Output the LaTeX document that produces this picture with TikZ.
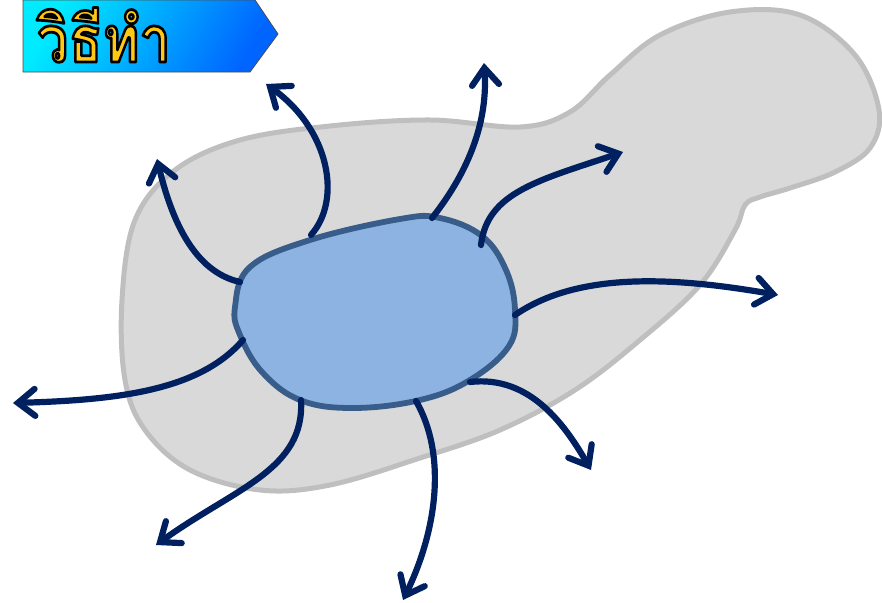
\documentclass[tikz,border=0pt]{standalone}
\usepackage{fontspec}
\newfontfamily\thaifont[Script=Thai]{Loma}
\usetikzlibrary{arrows.meta}
\definecolor{navy}{RGB}{0,32,96}
\definecolor{blobgray}{RGB}{217,217,217}
\definecolor{blobedge}{RGB}{191,191,191}
\definecolor{cellfill}{RGB}{141,179,226}
\definecolor{celledge}{RGB}{56,93,138}
\definecolor{bancyan}{RGB}{0,235,255}
\definecolor{banblue}{RGB}{0,100,255}
\definecolor{tgold}{RGB}{255,200,20}
\newcommand\ttltext{\scalebox{1.0}[1.15]{\thaifont\bfseries\fontsize{56}{60}\selectfont\special{pdf:literal direct 2 Tr 2.4 w 0 0 0 RG 1 j}วิธีทำ\special{pdf:literal direct 0 Tr}}}
\begin{document}
\begin{tikzpicture}[x=1pt,y=-1pt,
  arr/.style={draw=navy, line width=6.2pt, line cap=round,
    -{Straight Barb[length=17pt,width=27pt,line cap=round,line join=miter]}},
  ttl/.style={anchor=base west, inner sep=0pt, outer sep=0pt}]
\useasboundingbox (0,0) rectangle (882,602);
% gray region
\draw[fill=blobgray, draw=blobedge, line width=5pt]
  plot[smooth cycle, tension=0.6] coordinates {
  (122,300) (135,220) (175,170) (240,140) (330,126) (430,120) (520,127)
  (570,112) (610,75) (660,35) (730,12) (800,15) (855,55) (879,110)
  (870,148) (835,172) (790,188) (760,197) (745,205) (735,230) (700,285)
  (640,340) (575,390) (500,430) (420,458) (330,485) (260,490) (190,470)
  (145,430) (125,380)};
% blue cell
\draw[fill=cellfill, draw=celledge, line width=5.8pt]
  plot[smooth cycle, tension=0.65] coordinates {
  (235,307) (250,267) (310,240) (400,219) (440,218) (482,236) (506,270)
  (515,310) (509,346) (470,380) (420,400) (353,408) (300,400) (262,372)
  (240,335)};
% arrows
\coordinate (s1) at (311,235); \coordinate (e1) at (266,84);
\coordinate (s2) at (240,282); \coordinate (e2) at (157,159);
\coordinate (s3) at (432,218); \coordinate (e3) at (484,63);
\coordinate (s4) at (481,245); \coordinate (e4) at (623,152);
\coordinate (s5) at (515,315); \coordinate (e5) at (778,295);
\coordinate (s6) at (470,382); \coordinate (e6) at (591,470);
\coordinate (s7) at (416,401); \coordinate (e7) at (403,600);
\coordinate (s8) at (301,400); \coordinate (e8) at (156,545);
\coordinate (s9) at (243,340); \coordinate (e9) at (13,403);
\draw[arr] (s1) .. controls (342,200) and (330,130) .. (e1);
\draw[arr] (s2) .. controls (195,272) and (172,222) .. (e2);
\draw[arr] (s3) .. controls (470,170) and (488,120) .. (e3);
\draw[arr] (s4) .. controls (487,192) and (540,180) .. (e4);
\draw[arr] (s5) .. controls (580,270) and (680,278) .. (e5);
\draw[arr] (s6) .. controls (530,375) and (565,425) .. (e6);
\draw[arr] (s7) .. controls (447,455) and (437,530) .. (e7);
\draw[arr] (s8) .. controls (305,470) and (235,488) .. (e8);
\draw[arr] (s9) .. controls (200,390) and (120,400) .. (e9);
% title banner
\shade[left color=bancyan, right color=banblue, shading angle=60, draw=black!70, line width=0.8pt]
  (23,0) -- (255,0) -- (278,34) -- (250,72) -- (23,72) -- cycle;
\node[ttl, text=tgold] (title) at (37,62) {\ttltext};
\end{tikzpicture}
\end{document}
